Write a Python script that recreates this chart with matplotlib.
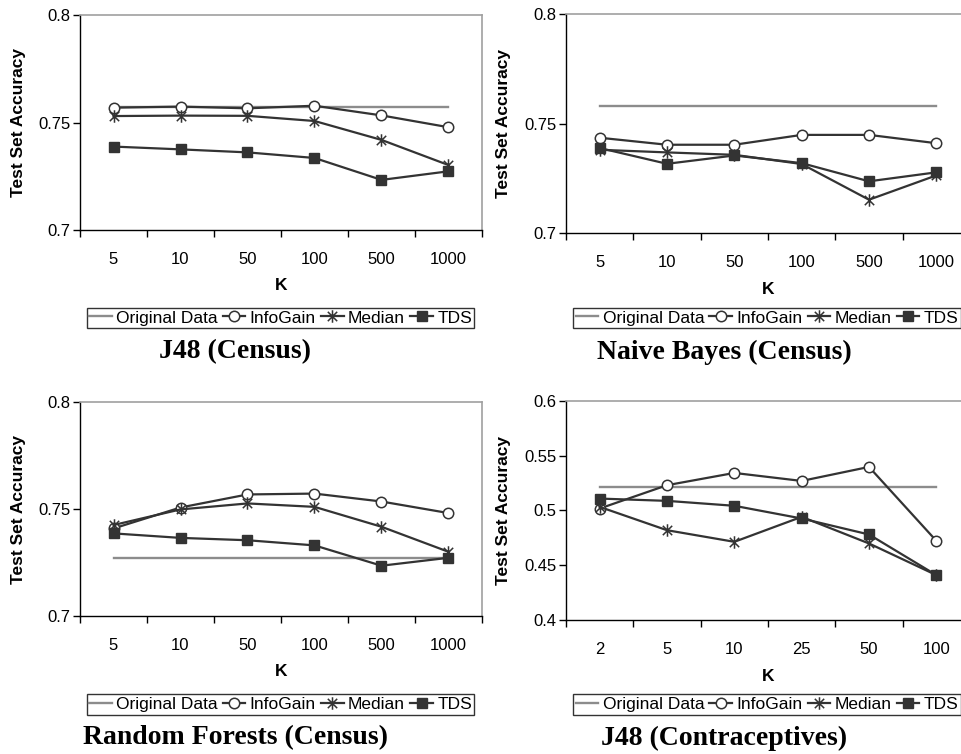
import matplotlib
matplotlib.use("Agg")
import matplotlib.pyplot as plt
from matplotlib.path import Path
import numpy as np

plt.rcParams["font.family"] = ["Liberation Sans", "DejaVu Sans"]

# Значения K по оси X
K_CENSUS = ["5", "10", "50", "100", "500", "1000"]
K_CONTRA = ["2", "5", "10", "25", "50", "100"]

# J48 (Census)
J48C_ORIG = [0.7574, 0.7574, 0.7574, 0.7574, 0.7574, 0.7574]
J48C_INFOGAIN = [0.7569, 0.7574, 0.7566, 0.7578, 0.7533, 0.7478]
J48C_MEDIAN = [0.7530, 0.7532, 0.7531, 0.7507, 0.7419, 0.7302]
J48C_TDS = [0.7388, 0.7375, 0.7361, 0.7335, 0.7233, 0.7273]

# Naive Bayes (Census)
NB_ORIG = [0.7580, 0.7580, 0.7580, 0.7580, 0.7580, 0.7580]
NB_INFOGAIN = [0.7435, 0.7403, 0.7403, 0.7448, 0.7448, 0.7410]
NB_MEDIAN = [0.7380, 0.7368, 0.7357, 0.7315, 0.7152, 0.7263]
NB_TDS = [0.7388, 0.7316, 0.7354, 0.7319, 0.7236, 0.7277]

# Random Forests (Census)
RF_ORIG = [0.7269, 0.7269, 0.7269, 0.7269, 0.7269, 0.7269]
RF_INFOGAIN = [0.7409, 0.7507, 0.7568, 0.7572, 0.7535, 0.7481]
RF_MEDIAN = [0.7425, 0.7498, 0.7526, 0.7510, 0.7417, 0.7300]
RF_TDS = [0.7386, 0.7365, 0.7354, 0.7330, 0.7235, 0.7272]

# J48 (Contraceptives)
J48K_ORIG = [0.5216, 0.5216, 0.5216, 0.5216, 0.5216, 0.5216]
J48K_INFOGAIN = [0.5018, 0.5231, 0.5343, 0.5270, 0.5398, 0.4723]
J48K_MEDIAN = [0.5033, 0.4820, 0.4714, 0.4942, 0.4699, 0.4410]
J48K_TDS = [0.5109, 0.5088, 0.5043, 0.4927, 0.4781, 0.4410]

DARK = "#333333"
GRAY = "#8c8c8c"
W, H = 962, 754

# маркер "звёздочка" как в Excel: крест + вертикальная черта
STAR = Path(
    [(0, -1), (0, 1), (-0.75, -0.75), (0.75, 0.75), (-0.75, 0.75), (0.75, -0.75)],
    [Path.MOVETO, Path.LINETO, Path.MOVETO, Path.LINETO, Path.MOVETO, Path.LINETO],
)


def draw_panel(rect, klabels, orig, infogain, median, tds, yticks,
               title, legend_xy, title_xy):
    ax = fig.add_axes(rect)
    x = np.arange(len(klabels))
    ax.plot(x, orig, color=GRAY, lw=1.7, label="Original Data")
    ax.plot(x, infogain, color=DARK, lw=1.6, marker="o", ms=7.5,
            mfc="white", mec=DARK, mew=1.1, label="InfoGain")
    ax.plot(x, median, color=DARK, lw=1.6, marker=STAR, ms=9,
            mfc="none", mec=DARK, mew=1.1, label="Median")
    ax.plot(x, tds, color=DARK, lw=1.6, marker="s", ms=7.5,
            mfc=DARK, mec=DARK, label="TDS")

    ax.set_xlim(-0.5, len(klabels) - 0.5)
    ax.set_ylim(yticks[0], yticks[-1])
    ax.set_yticks(yticks)
    ax.set_yticklabels([f"{v:g}" for v in yticks])
    ax.set_xticks(np.arange(-0.5, len(klabels), 1))
    ax.set_xticklabels([])
    ax.set_xticks(x, minor=True)
    ax.set_xticklabels(klabels, minor=True)
    ax.tick_params(axis="x", which="major", length=5, width=1, direction="out")
    ax.tick_params(axis="x", which="minor", length=0, pad=16, labelsize=12)
    ax.tick_params(axis="y", length=5, width=1, direction="out", pad=2,
                   labelsize=12)

    for side in ("left", "bottom"):
        ax.spines[side].set_color("black")
        ax.spines[side].set_linewidth(1)
    for side in ("top", "right"):
        ax.spines[side].set_color("#a0a0a0")
        ax.spines[side].set_linewidth(1.2)

    ax.set_xlabel("K", fontsize=12.5, fontweight="bold")
    ax.xaxis.set_label_coords(0.5, -0.225)
    ax.set_ylabel("Test Set Accuracy", fontsize=12.5, fontweight="bold")
    ax.yaxis.set_label_coords(-0.135, 0.5)

    leg = ax.legend(loc="center", ncol=4, bbox_to_anchor=legend_xy,
                    bbox_transform=fig.transFigure, fontsize=12.5,
                    frameon=True, fancybox=False, edgecolor="black",
                    handlelength=1.3, handletextpad=0.25, columnspacing=0.3,
                    borderpad=0.15, borderaxespad=0)
    leg.get_frame().set_linewidth(1)

    fig.text(title_xy[0], title_xy[1], title, ha="center", va="center",
             fontsize=20, fontweight="bold", family="Liberation Serif")
    return ax


fig = plt.figure(figsize=(W / 100, H / 100), dpi=100)
fig.patch.set_facecolor("white")

draw_panel([80 / W, 1 - 230 / H, 402 / W, 215 / H], K_CENSUS,
           J48C_ORIG, J48C_INFOGAIN, J48C_MEDIAN, J48C_TDS,
           [0.7, 0.75, 0.8], "J48 (Census)",
           (280.5 / W, 1 - 318 / H), (235 / W, 1 - 352 / H))

draw_panel([566 / W, 1 - 233 / H, 404 / W, 219 / H], K_CENSUS,
           NB_ORIG, NB_INFOGAIN, NB_MEDIAN, NB_TDS,
           [0.7, 0.75, 0.8], "Naive Bayes (Census)",
           (767 / W, 1 - 318 / H), (724 / W, 1 - 352 / H))

draw_panel([80 / W, 1 - 616 / H, 402 / W, 214 / H], K_CENSUS,
           RF_ORIG, RF_INFOGAIN, RF_MEDIAN, RF_TDS,
           [0.7, 0.75, 0.8], "Random Forests (Census)",
           (280.5 / W, 1 - 704.5 / H), (236 / W, 1 - 738 / H))

draw_panel([566 / W, 1 - 620 / H, 404 / W, 219 / H], K_CONTRA,
           J48K_ORIG, J48K_INFOGAIN, J48K_MEDIAN, J48K_TDS,
           [0.4, 0.45, 0.5, 0.55, 0.6], "J48 (Contraceptives)",
           (767 / W, 1 - 704.5 / H), (724 / W, 1 - 738 / H))

fig.savefig("out.png", dpi=100)
